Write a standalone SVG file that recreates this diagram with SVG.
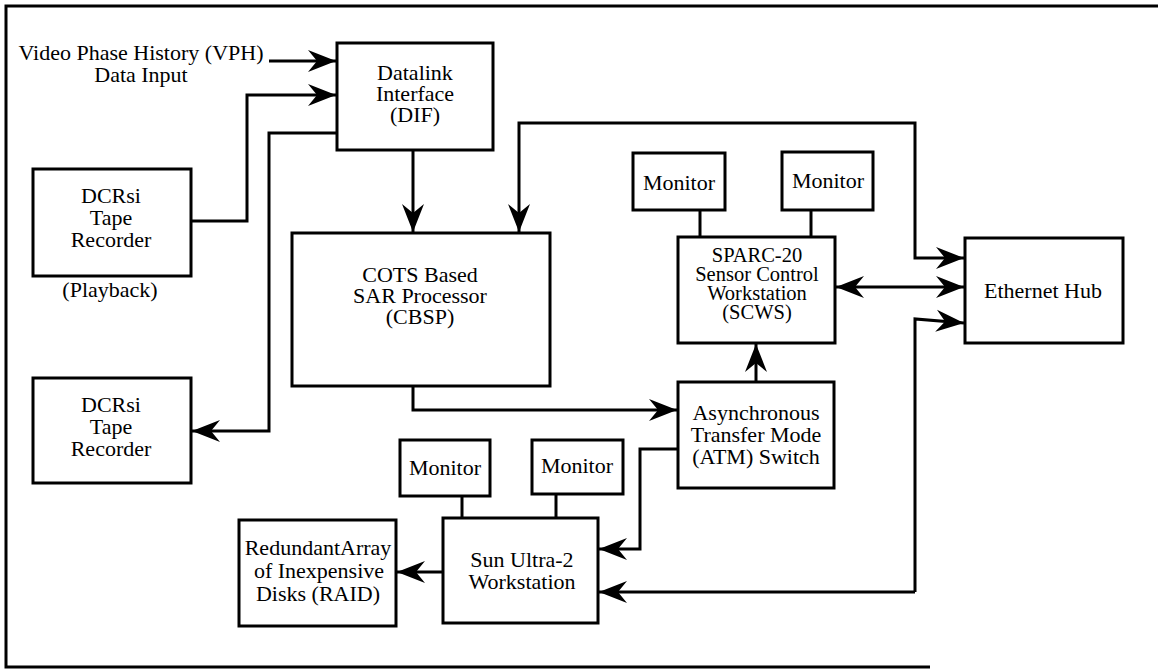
<svg xmlns="http://www.w3.org/2000/svg" width="1158" height="669" viewBox="0 0 1158 669">
<style>
.box{fill:#fff;stroke:#000;stroke-width:3}
.ln{fill:none;stroke:#000;stroke-width:3}
.arr{marker-end:url(#ah)}
.t text{font-size:22px;fill:#000;text-anchor:middle}
.t .sm{font-size:20.5px}
</style>
<defs>
<marker id="ah" markerUnits="userSpaceOnUse" viewBox="-30 -12 32 24" markerWidth="32" markerHeight="24" refX="0" refY="0" orient="auto-start-reverse">
<path d="M0,0 L-28,-11 L-19,0 L-28,11 Z" fill="#000"/>
</marker>
</defs>
<rect width="1158" height="669" fill="#fff"/>
<path class="ln" d="M1158,6 H6 V667 H930"/>
<g id="connectors">
<path class="ln arr" d="M269,61 H336"/>
<path class="ln arr" d="M191,221 H247 V95 H336"/>
<path class="ln arr" d="M337,133 H269 V431 H192"/>
<path class="ln arr" d="M413,150 V232"/>
<path class="ln arr" d="M519,232 V123 H915 V258 H964" marker-start="url(#ah)"/>
<path class="ln arr" d="M836,287 H964" marker-start="url(#ah)"/>
<path class="ln arr" d="M915,592 V319 L964,323"/>
<path class="ln arr" d="M915,592 H599"/>
<path class="ln arr" d="M413,386 V410 H677"/>
<path class="ln arr" d="M756,382 V344"/>
<path class="ln arr" d="M678,449 H640 V549 H599"/>
<path class="ln arr" d="M443,572 H397"/>
<path class="ln" d="M700,210 V237"/>
<path class="ln" d="M811,210 V237"/>
<path class="ln" d="M462,496 V518"/>
<path class="ln" d="M556,494 V518"/>
</g>
<g class="t" font-family="'Liberation Serif', 'Times New Roman', 'DejaVu Serif', serif">
<g id="vph-label">
<text x="141" y="60">Video Phase History (VPH)</text>
<text x="141" y="82">Data Input</text>
</g>
<g id="dif">
<rect class="box" x="337" y="43" width="156" height="107"/>
<text x="415" y="80">Datalink</text>
<text x="415" y="101">Interface</text>
<text x="415" y="122">(DIF)</text>
</g>
<g id="tape1">
<rect class="box" x="33" y="169" width="158" height="107"/>
<text x="111" y="203">DCRsi</text>
<text x="111" y="225">Tape</text>
<text x="111" y="247">Recorder</text>
<text x="110" y="297">(Playback)</text>
</g>
<g id="tape2">
<rect class="box" x="33" y="378" width="158" height="105"/>
<text x="111" y="412">DCRsi</text>
<text x="111" y="434">Tape</text>
<text x="111" y="456">Recorder</text>
</g>
<g id="cbsp">
<rect class="box" x="292" y="233" width="258" height="153"/>
<text x="420" y="282">COTS Based</text>
<text x="420" y="303">SAR Processor</text>
<text x="420" y="324">(CBSP)</text>
</g>
<g id="monitor1">
<rect class="box" x="633" y="153" width="92" height="57"/>
<text x="679" y="190">Monitor</text>
</g>
<g id="monitor2">
<rect class="box" x="782" y="152" width="91" height="58"/>
<text x="828" y="188">Monitor</text>
</g>
<g id="scws">
<rect class="box" x="678" y="237" width="157" height="106"/>
<text class="sm" x="757" y="262">SPARC-20</text>
<text class="sm" x="757" y="281">Sensor Control</text>
<text class="sm" x="757" y="300">Workstation</text>
<text class="sm" x="757" y="319">(SCWS)</text>
</g>
<g id="ethernet">
<rect class="box" x="965" y="238" width="158" height="105"/>
<text x="1043" y="298">Ethernet Hub</text>
</g>
<g id="atm">
<rect class="box" x="678" y="382" width="156" height="106"/>
<text x="756" y="420">Asynchronous</text>
<text x="756" y="442">Transfer Mode</text>
<text x="756" y="464">(ATM) Switch</text>
</g>
<g id="monitor3">
<rect class="box" x="400" y="440" width="90" height="56"/>
<text x="445" y="475">Monitor</text>
</g>
<g id="monitor4">
<rect class="box" x="532" y="440" width="91" height="54"/>
<text x="577" y="473">Monitor</text>
</g>
<g id="sun">
<rect class="box" x="443" y="518" width="155" height="105"/>
<text x="522" y="567">Sun Ultra-2</text>
<text x="522" y="589">Workstation</text>
</g>
<g id="raid">
<rect class="box" x="239" y="520" width="157" height="106"/>
<text x="318" y="555">RedundantArray</text>
<text x="319" y="578">of Inexpensive</text>
<text x="318" y="601">Disks (RAID)</text>
</g>
</g>
</svg>
